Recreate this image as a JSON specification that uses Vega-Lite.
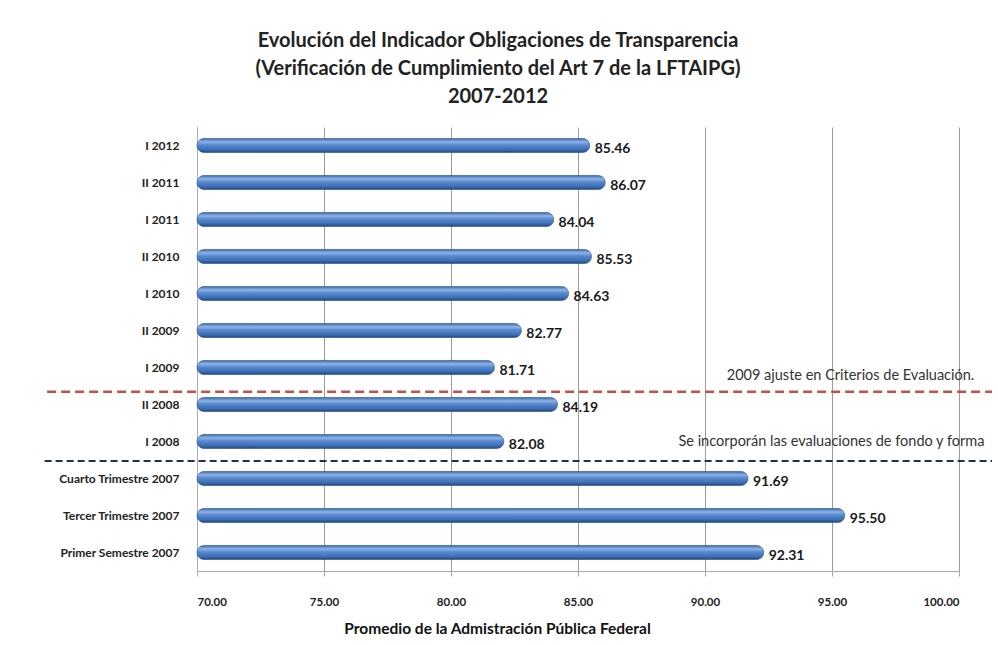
{
  "$schema": "https://vega.github.io/schema/vega-lite/v6.json",
  "autosize": {"type": "none"},
  "padding": {"left": 197, "top": 127, "right": 39, "bottom": 74},
  "width": 762,
  "height": 444,
  "background": "white",
  "title": {
    "text": ["Evolución del Indicador Obligaciones de Transparencia", "(Verificación de Cumplimiento del Art 7 de la LFTAIPG)", "2007-2012"],
    "font": "Lato",
    "fontSize": 20,
    "fontWeight": "bold",
    "color": "#222222",
    "lineHeight": 28,
    "anchor": "middle",
    "dx": -80,
    "offset": 20
  },
  "config": {
    "view": {"stroke": null},
    "font": "Lato"
  },
  "datasets": {
    "bars": [
      {"periodo": "I 2012", "valor": 85.46},
      {"periodo": "II 2011", "valor": 86.07},
      {"periodo": "I 2011", "valor": 84.04},
      {"periodo": "II 2010", "valor": 85.53},
      {"periodo": "I 2010", "valor": 84.63},
      {"periodo": "II 2009", "valor": 82.77},
      {"periodo": "I 2009", "valor": 81.71},
      {"periodo": "II 2008", "valor": 84.19},
      {"periodo": "I 2008", "valor": 82.08},
      {"periodo": "Cuarto Trimestre 2007", "valor": 91.69},
      {"periodo": "Tercer Trimestre 2007", "valor": 95.5},
      {"periodo": "Primer Semestre 2007", "valor": 92.31}
    ]
  },
  "layer": [
    {
      "data": {"name": "bars"},
      "mark": {
        "type": "bar",
        "cornerRadius": 7,
        "stroke": "#2a4f86",
        "strokeWidth": 0.6,
        "color": {
          "gradient": "linear",
          "x1": 0, "y1": 0, "x2": 0, "y2": 1,
          "stops": [
            {"offset": 0, "color": "#3a6cb0"},
            {"offset": 0.25, "color": "#8fb3e6"},
            {"offset": 0.45, "color": "#5a8bd0"},
            {"offset": 0.8, "color": "#3b6db3"},
            {"offset": 1, "color": "#21467e"}
          ]
        }
      },
      "encoding": {
        "y": {
          "field": "periodo", "type": "nominal", "sort": null,
          "scale": {"paddingInner": 0.62, "paddingOuter": 0.31},
          "axis": {
            "title": null,
            "ticks": false,
            "labelFont": "Lato",
            "labelFontSize": 12,
            "labelFontWeight": "bold",
            "labelColor": "#222222",
            "labelPadding": 18,
            "domainColor": "#aaaaaa"
          }
        },
        "x": {
          "field": "valor", "type": "quantitative",
          "scale": {"domain": [70, 100], "nice": false, "zero": false},
          "axis": {
            "title": "Promedio de la Admistración Pública Federal",
            "titleFont": "Lato",
            "titleFontSize": 15.5,
            "titleFontWeight": "bold",
            "titleColor": "#111111",
            "titlePadding": 14,
            "titleX": 300,
            "values": [70, 75, 80, 85, 90, 95, 100],
            "format": ".2f",
            "labelFont": "Lato",
            "labelFontSize": 11.5,
            "labelFontWeight": "bold",
            "labelColor": "#222222",
            "labelPadding": 20,
            "grid": true,
            "gridColor": "#9a9a9a",
            "gridWidth": 1,
            "domainColor": "#aaaaaa",
            "tickColor": "#aaaaaa",
            "tickSize": 5
          }
        },
        "x2": {"datum": 70}
      }
    },
    {
      "data": {"name": "bars"},
      "mark": {"type": "text", "align": "left", "baseline": "middle", "dx": 5, "dy": 3, "font": "Lato", "fontSize": 14, "fontWeight": "bold", "color": "#1a1a1a"},
      "encoding": {
        "y": {"field": "periodo", "type": "nominal", "sort": null},
        "x": {"field": "valor", "type": "quantitative"},
        "text": {"field": "valor", "type": "quantitative", "format": ".2f"}
      }
    },
    {
      "data": {"values": [{"periodo": "II 2008"}]},
      "mark": {"type": "rule", "color": "#c0504d", "strokeWidth": 2.5, "strokeDash": [9, 5]},
      "encoding": {
        "y": {"field": "periodo", "type": "nominal", "sort": null, "bandPosition": -0.4},
        "x": {"datum": 64.1},
        "x2": {"datum": 101.3}
      }
    },
    {
      "data": {"values": [{"periodo": "Cuarto Trimestre 2007"}]},
      "mark": {"type": "rule", "color": "#1f3050", "strokeWidth": 2, "strokeDash": [7, 4]},
      "encoding": {
        "y": {"field": "periodo", "type": "nominal", "sort": null, "bandPosition": -0.75},
        "x": {"datum": 64.0},
        "x2": {"datum": 101.3}
      }
    },
    {
      "data": {"values": [{"periodo": "I 2009", "nota": "2009 ajuste  en Criterios de Evaluación."}]},
      "mark": {"type": "text", "align": "right", "baseline": "middle", "font": "Lato", "fontSize": 14.5, "color": "#333333"},
      "encoding": {
        "y": {"field": "periodo", "type": "nominal", "sort": null, "bandPosition": 1.07},
        "x": {"datum": 100.6},
        "text": {"field": "nota"}
      }
    },
    {
      "data": {"values": [{"periodo": "I 2008", "nota": "Se incorporán las evaluaciones de fondo y forma"}]},
      "mark": {"type": "text", "align": "right", "baseline": "middle", "font": "Lato", "fontSize": 14.5, "color": "#333333"},
      "encoding": {
        "y": {"field": "periodo", "type": "nominal", "sort": null, "bandPosition": 0.55},
        "x": {"datum": 101.0},
        "text": {"field": "nota"}
      }
    }
  ]
}
